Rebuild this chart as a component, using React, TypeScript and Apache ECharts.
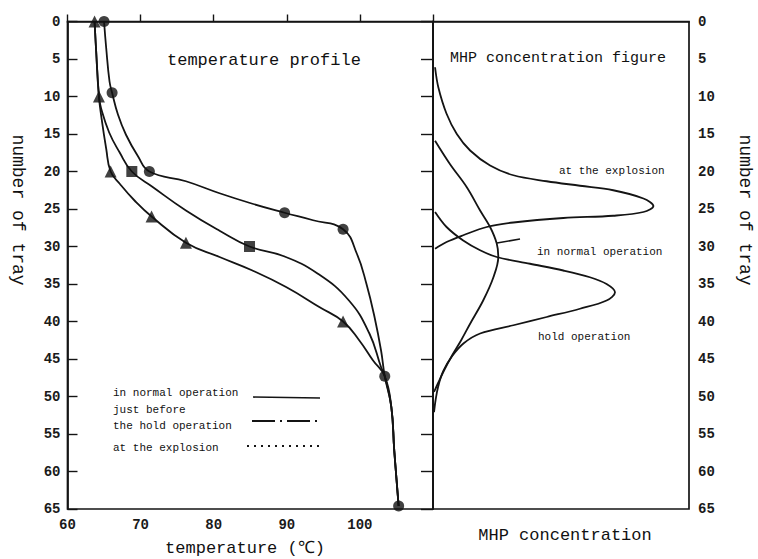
import React, { useEffect, useRef } from "react";
import * as echarts from "echarts";

// ---- Left panel: temperature profile (x = temperature °C, y = tray number)
const circleLine: [number, number][] = [
  [65.0, 0], [65.3, 3.6], [65.75, 8], [66.1, 9.5], [66.9, 12.4], [68.0, 15.1], [69.6, 17.9],
  [71.2, 20], [76.2, 21.3], [80.8, 22.9], [85.3, 24.3], [89.7, 25.5], [93.6, 26.5], [97.7, 27.7],
  [99.6, 31], [100.9, 35], [102.0, 39.4], [102.9, 43.9], [103.4, 47.3], [104.3, 51.4],
  [104.7, 57.2], [105.3, 64.6],
];
const circleMarks: [number, number][] = [
  [65.0, 0], [66.1, 9.5], [71.2, 20], [89.7, 25.5], [97.7, 27.7], [103.4, 47.3], [105.3, 64.6],
];
const squareLine: [number, number][] = [
  [63.7, 0], [63.9, 3.6], [64.3, 10], [64.6, 11.6], [65.7, 14.8], [67.1, 17.4], [68.8, 20],
  [71.7, 22.1], [76.2, 25.2], [80.8, 27.9], [84.9, 30], [89.6, 31.3], [94.2, 33.6], [98.5, 37.2],
  [101.3, 41.6], [102.9, 46.1], [103.4, 47.3], [104.3, 51.4], [104.7, 57.2], [105.3, 64.6],
];
const squareMarks: [number, number][] = [[68.8, 20], [84.9, 30]];
const triangleLine: [number, number][] = [
  [63.7, 0], [63.9, 3.6], [64.3, 10], [64.6, 12.5], [65.3, 17], [65.9, 20], [67.2, 21.7],
  [69.2, 23.9], [71.5, 26], [76.2, 29.5], [80.8, 31.4], [85.3, 33.2], [89.9, 35.4], [94.5, 38.1],
  [97.7, 40], [99.9, 42.5], [101.8, 45.2], [103.4, 47.3], [104.3, 51.4], [104.7, 57.2], [105.3, 64.6],
];
const triangleMarks: [number, number][] = [
  [63.7, 0], [64.3, 10], [65.9, 20], [71.5, 26], [76.2, 29.5], [97.7, 40],
];

// ---- Right panel: MHP concentration (arbitrary units, y = tray number)
const explosionMHP: [number, number][] = [
  [0.8, 6.1], [2.1, 8.8], [5.3, 12.3], [9.3, 15], [14.5, 17.2], [22.3, 19.2], [31.4, 20.5],
  [44.4, 21.3], [57.4, 21.9], [70.4, 22.5], [82.2, 23.6], [86.1, 24.6], [82.2, 25.4], [70.4, 25.9],
  [50.9, 26.2], [31.4, 26.8], [21, 27.4], [11.8, 28.5], [5.3, 29.4], [0.8, 30.3],
];
const normalMHP: [number, number][] = [
  [0.8, 15.9], [6.6, 19], [13.2, 22.1], [18.4, 25.2], [22.3, 27.4], [24.9, 29.6], [25.5, 31.4],
  [23.6, 34.1], [19.6, 37.2], [14.5, 40.3], [11, 42.5], [7.5, 44.5], [4.5, 46.4], [2, 48.2],
  [0.4, 49.4],
];
const holdMHP: [number, number][] = [
  [0.8, 25.4], [5.3, 27.4], [11.8, 29.2], [18.4, 30.5], [24.9, 31.4], [37.9, 32.3], [50.9, 33.2],
  [61.3, 34.1], [67.8, 35], [71.1, 36.1], [67.8, 37.2], [57.4, 38.3], [44.4, 39.4], [31.4, 40.5],
  [18.4, 41.6], [12, 42.9], [7.5, 44.6], [4, 46.6], [2, 48.7], [1, 50.5], [0.4, 52.1],
];

const legendLabels = ["in normal operation", "just before", "the hold operation", "at the explosion"];
const panelTitles = ["temperature profile", "MHP concentration figure"];
const curveLabels = ["at the explosion", "in normal operation", "hold operation"];
const axisNames = ["temperature (℃)", "MHP concentration", "number of tray"];

const FONT = "'Liberation Mono', 'DejaVu Sans Mono', monospace";
const INK = "#141414";

export default function App() {
  const ref = useRef<HTMLDivElement>(null);
  useEffect(() => {
    document.body.style.margin = "0";
    if (!ref.current) return;
    const chart = echarts.init(ref.current, undefined, { renderer: "svg" });

    const line = (data: [number, number][], i: number, smooth: number) => ({
      type: "line",
      xAxisIndex: i,
      yAxisIndex: i,
      data,
      smooth,
      symbol: "none",
      lineStyle: { color: INK, width: 1.8 },
      z: 2,
    });
    const marks = (data: [number, number][], symbol: string, size: number) => ({
      type: "scatter",
      xAxisIndex: 0,
      yAxisIndex: 0,
      data,
      symbol,
      symbolSize: size,
      itemStyle: { color: "#111" },
      z: 3,
    });

    const tickLabel = { color: "#1a1a1a", fontFamily: FONT, fontWeight: "bold", fontSize: 14 };
    const axLine = { show: true, lineStyle: { color: INK, width: 1.7 } };

    const txt = (text: string, x: number, y: number, size: number, extra: any = {}) => ({
      type: "text",
      x,
      y,
      ...extra,
      style: {
        text,
        fill: "#111",
        font: `${size}px ${FONT}`,
        textVerticalAlign: "middle",
        ...(extra.style || {}),
      },
    });

    chart.setOption({
      animation: false,
      backgroundColor: "#fff",
      grid: [
        { left: 67.5, top: 21.5, width: 365.5, height: 487.5, show: true, borderColor: INK, borderWidth: 1.7 },
        { left: 433, top: 21.5, width: 256, height: 487.5, show: true, borderColor: INK, borderWidth: 1.7 },
      ],
      xAxis: [
        {
          gridIndex: 0, type: "value", min: 60, max: 110, interval: 10,
          axisLine: axLine,
          axisTick: { show: true, inside: true, length: 7, lineStyle: { color: INK, width: 1.4 } },
          axisLabel: { ...tickLabel, margin: 9, formatter: (v: number) => (v >= 110 ? "" : String(v)) },
          splitLine: { show: false },
        },
        {
          gridIndex: 1, type: "value", min: 0, max: 100,
          axisLine: axLine, axisTick: { show: false }, axisLabel: { show: false }, splitLine: { show: false },
        },
      ],
      yAxis: [
        {
          gridIndex: 0, type: "value", inverse: true, min: 0, max: 65, interval: 5,
          axisLine: axLine,
          axisTick: { show: true, inside: true, length: 10, lineStyle: { color: INK, width: 1.4 } },
          axisLabel: { ...tickLabel, margin: 7 },
          splitLine: { show: false },
        },
        {
          gridIndex: 1, type: "value", position: "right", inverse: true, min: 0, max: 65, interval: 5,
          axisLine: axLine,
          axisTick: { show: true, inside: true, length: 12, lineStyle: { color: INK, width: 1.4 } },
          axisLabel: { ...tickLabel, margin: 9 },
          splitLine: { show: false },
        },
      ],
      series: [
        line(circleLine, 0, 0.45),
        line(squareLine, 0, 0.45),
        line(triangleLine, 0, 0.45),
        marks(circleMarks, "circle", 11),
        marks(squareMarks, "rect", 11),
        marks(triangleMarks, "triangle", 12),
        line(explosionMHP, 1, 0.35),
        line(normalMHP, 1, 0.35),
        line(holdMHP, 1, 0.35),
      ],
      graphic: [
        txt(panelTitles[0], 167, 60, 17),
        txt(panelTitles[1], 450, 58, 15),
        // legend
        txt(legendLabels[0], 113, 393, 11),
        txt(legendLabels[1], 113, 410, 11),
        txt(legendLabels[2], 113, 426, 11),
        txt(legendLabels[3], 113, 448, 11),
        { type: "line", shape: { x1: 253, y1: 397, x2: 320, y2: 398 }, style: { stroke: INK, lineWidth: 1.7 } },
        { type: "line", shape: { x1: 252, y1: 421, x2: 322, y2: 421 }, style: { stroke: INK, lineWidth: 1.9, lineDash: [23, 5, 2, 5] } },
        { type: "line", shape: { x1: 247, y1: 446, x2: 322, y2: 446 }, style: { stroke: INK, lineWidth: 2, lineDash: [2, 5] } },
        // right panel labels
        txt(curveLabels[0], 559, 171, 11),
        txt(curveLabels[1], 537, 252, 11),
        txt(curveLabels[2], 538, 337, 11),
        { type: "line", shape: { x1: 497, y1: 243, x2: 520, y2: 239 }, style: { stroke: INK, lineWidth: 1.7 } },
        // axis names
        txt(axisNames[0], 245, 548, 17, { style: { textAlign: "center" } }),
        txt(axisNames[1], 565, 535, 17, { style: { textAlign: "center" } }),
        txt(axisNames[2], 18, 210, 18, { rotation: -Math.PI / 2, style: { textAlign: "center" } }),
        txt(axisNames[2], 745, 210, 18, { rotation: -Math.PI / 2, style: { textAlign: "center" } }),
      ],
    });
    return () => chart.dispose();
  }, []);
  return <div ref={ref} style={{ width: 758, height: 559 }} />;
}
